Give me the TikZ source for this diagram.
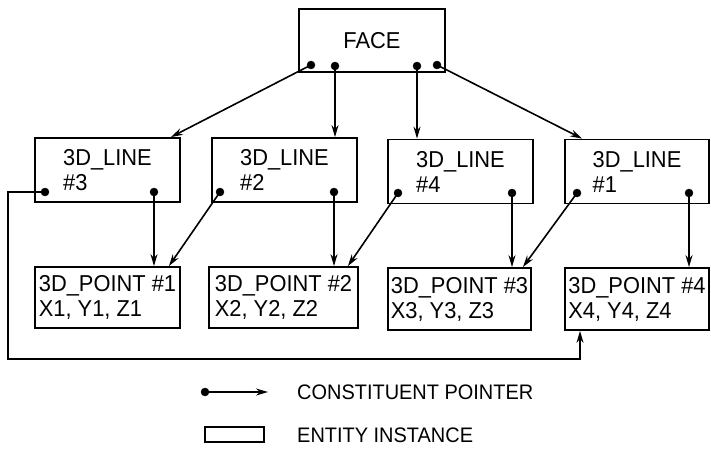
\documentclass[tikz,border=0pt]{standalone}
\usepackage{fontspec}
\setmainfont{Liberation Sans}[FakeStretch=0.95]
\usetikzlibrary{arrows.meta,calc}
\tikzset{
  ent/.style={draw, line width=1.8pt, inner sep=2pt, font=\fontsize{23}{25}\selectfont, align=left},
  lbox/.style={ent, minimum width=145pt, minimum height=64pt},
  pbox/.style={ent, minimum width=145pt, minimum height=61pt},
  ptr/.style={line width=1.6pt, -{Stealth[length=12pt,width=7pt]}},
  dot/.style={circle, fill=black, draw=black, inner sep=0pt, minimum size=8pt},
  legtext/.style={anchor=west, inner sep=0pt, font=\fontsize{21}{23}\selectfont},
}
\begin{document}
\begin{tikzpicture}[x=1pt,y=-1pt]
\useasboundingbox (0,0) rectangle (711,449);
% entity boxes
\node[ent, minimum width=146pt, minimum height=63pt] (face) at (372,40.5) {FACE};
\node[lbox] (l3) at (107.5,170) {3D\_LINE\\\#3};
\node[lbox] (l2) at (284.5,170) {3D\_LINE\\\#2};
\node[lbox] (l4) at (460.5,171.5) {3D\_LINE\\\#4};
\node[lbox, minimum width=144pt] (l1) at (637,171.5) {3D\_LINE\\\#1};
\node[pbox] (p1) at (107.5,297.5) {3D\_POINT \#1\\X1, Y1, Z1};
\node[pbox, minimum width=149pt] (p2) at (283.5,297.5) {3D\_POINT \#2\\X2, Y2, Z2};
\node[pbox, minimum width=143pt, minimum height=62pt] (p3) at (459.5,299) {3D\_POINT \#3\\X3, Y3, Z3};
\node[pbox, minimum width=144pt, minimum height=62pt] (p4) at (637,299) {3D\_POINT \#4\\X4, Y4, Z4};
% pointer origins
\node[dot] (f1) at (311,65) {};
\node[dot] (f2) at (335,66) {};
\node[dot] (f3) at (417,66) {};
\node[dot] (f4) at (437,65) {};
\node[dot] (l3a) at (45,192) {};
\node[dot] (l3b) at (154,192) {};
\node[dot] (l2a) at (220,192) {};
\node[dot] (l2b) at (334,192) {};
\node[dot] (l4a) at (398,193) {};
\node[dot] (l4b) at (512,193) {};
\node[dot] (l1a) at (577,193) {};
\node[dot] (l1b) at (689,193) {};
% pointers
\draw[ptr] (f1.center) -- ([xshift=-10pt]l3.north east);
\draw[ptr] (f2.center) -- (f2 |- l2.north);
\draw[ptr] (f3.center) -- (f3 |- l4.north);
\draw[ptr] (f4.center) -- ([xshift=18pt]l1.north west);
\draw[ptr] (l3b.center) -- (l3b |- p1.north);
\draw[ptr] (l2a.center) -- ([xshift=-12pt]p1.north east);
\draw[ptr] (l2b.center) -- (l2b |- p2.north);
\draw[ptr] (l4a.center) -- ([xshift=-11pt]p2.north east);
\draw[ptr] (l4b.center) -- (l4b |- p3.north);
\draw[ptr] (l1a.center) -- ([xshift=-9pt]p3.north east);
\draw[ptr] (l1b.center) -- (l1b |- p4.north);
\coordinate (loopA) at (8,192);
\coordinate (loopB) at (8,359);
\coordinate (loopC) at (580,359);
\draw[ptr] (l3a.center) -- (loopA) -- (loopB) -- (loopC) -- (loopC |- p4.south);
% legend
\node[dot] (lgdot) at (205,392) {};
\coordinate (lgend) at (268,392);
\draw[ptr] (lgdot.center) -- (lgend);
\node[legtext] (lgt1) at (297,392) {CONSTITUENT POINTER};
\node[draw, line width=1.8pt, minimum width=59pt, minimum height=15pt, inner sep=0pt] (lgbox) at (234.5,434.5) {};
\node[legtext] (lgt2) at (297,435) {ENTITY INSTANCE};
\end{tikzpicture}
\end{document}
